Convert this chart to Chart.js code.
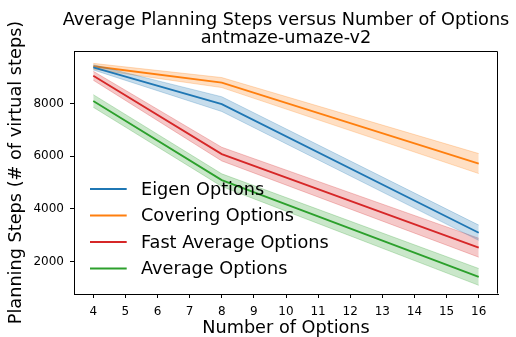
<!DOCTYPE html>
<html>
<head>
<meta charset="utf-8">
<script src="https://cdn.jsdelivr.net/npm/chart.js@4"></script>
<style>
  html, body { margin: 0; padding: 0; background: #fff; }
  #wrap { width: 516px; height: 337px; }
</style>
</head>
<body>
<div id="wrap"><canvas id="c" width="516" height="337"></canvas></div>
<script>
// Number of options evaluated
const numOptions = [4, 8, 16];

// Mean planning steps per method
const eigenSteps    = [9380, 7980, 3090];
const coveringSteps = [9420, 8800, 5720];
const fastAvgSteps  = [9060, 6080, 2520];
const averageSteps  = [8100, 5090, 1410];

// Spread (shaded band half-width) per method
const eigenSpread    = [100, 280, 290];
const coveringSpread = [110, 190, 380];
const fastAvgSpread  = [170, 260, 360];
const averageSpread  = [240, 240, 320];

const seriesNames = ['Eigen Options', 'Covering Options', 'Fast Average Options', 'Average Options'];
const seriesColors = ['31,119,180', '255,127,14', '214,39,40', '44,160,44'];

const xTickValues = [4, 5, 6, 7, 8, 9, 10, 11, 12, 13, 14, 15, 16];
const yTickValues = [2000, 4000, 6000, 8000];

const titleLines = ['Average Planning Steps versus Number of Options', 'antmaze-umaze-v2'];
const xAxisTitle = 'Number of Options';
const yAxisTitle = 'Planning Steps (# of virtual steps)';

const FONT = 'DejaVu Sans';
Chart.defaults.font.family = FONT;
Chart.defaults.color = '#000';

const means = [eigenSteps, coveringSteps, fastAvgSteps, averageSteps];
const spreads = [eigenSpread, coveringSpread, fastAvgSpread, averageSpread];

const datasets = [];
means.forEach((m, i) => {
  const c = seriesColors[i];
  const upper = m.map((v, k) => ({ x: numOptions[k], y: v + spreads[i][k] }));
  const lower = m.map((v, k) => ({ x: numOptions[k], y: v - spreads[i][k] }));
  datasets.push({
    label: seriesNames[i] + ' upper',
    data: upper,
    borderColor: `rgba(${c},0.25)`,
    borderWidth: 1,
    backgroundColor: `rgba(${c},0.25)`,
    fill: '+1',
    pointRadius: 0,
    tension: 0,
    isBand: true
  });
  datasets.push({
    label: seriesNames[i] + ' lower',
    data: lower,
    borderColor: `rgba(${c},0.25)`,
    borderWidth: 1,
    backgroundColor: 'rgba(0,0,0,0)',
    fill: false,
    pointRadius: 0,
    tension: 0,
    isBand: true
  });
  datasets.push({
    label: seriesNames[i],
    data: m.map((v, k) => ({ x: numOptions[k], y: v })),
    borderColor: `rgb(${c})`,
    borderWidth: 1.8,
    fill: false,
    pointRadius: 0,
    tension: 0,
    isBand: false
  });
});

// Title centred over the plot area, frame on top/right, legend inside the plot
const decorPlugin = {
  id: 'decor',
  afterDraw(chart) {
    const { ctx, chartArea: a } = chart;
    ctx.save();

    ctx.fillStyle = '#000';
    ctx.font = `17.7px "${FONT}"`;
    ctx.textAlign = 'center';
    ctx.textBaseline = 'alphabetic';
    const cx = (a.left + a.right) / 2;
    ctx.fillText(titleLines[0], cx, 25);
    ctx.fillText(titleLines[1], cx, 43.3);

    ctx.strokeStyle = '#000';
    ctx.lineWidth = 1;
    ctx.beginPath();
    ctx.moveTo(Math.round(a.left) + 0.5, Math.round(a.top) + 0.5);
    ctx.lineTo(Math.round(a.right) - 0.5, Math.round(a.top) + 0.5);
    ctx.lineTo(Math.round(a.right) - 0.5, Math.round(a.bottom) - 0.5);
    ctx.stroke();

    const mains = chart.data.datasets.filter(d => !d.isBand);
    const y0 = 189, dy = 26.5;
    ctx.textBaseline = 'middle';
    ctx.textAlign = 'left';
    mains.forEach((d, i) => {
      const y = y0 + i * dy;
      ctx.strokeStyle = d.borderColor;
      ctx.lineWidth = 1.8;
      ctx.beginPath();
      ctx.moveTo(90, y);
      ctx.lineTo(126.7, y);
      ctx.stroke();
      ctx.fillStyle = '#000';
      ctx.fillText(d.label, 141, y + 1);
    });
    ctx.restore();
  }
};

new Chart(document.getElementById('c'), {
  type: 'line',
  data: { datasets },
  plugins: [decorPlugin],
  options: {
    responsive: false,
    devicePixelRatio: 1,
    animation: false,
    layout: { padding: { left: 0, right: 18, top: 51, bottom: 0 } },
    plugins: {
      legend: { display: false },
      tooltip: { enabled: false },
      title: { display: false }
    },
    scales: {
      x: {
        type: 'linear',
        min: 3.4,
        max: 16.6,
        afterBuildTicks: s => { s.ticks = xTickValues.map(v => ({ value: v })); },
        afterFit: s => { s.height = 43; },
        ticks: {
          autoSkip: false, maxRotation: 0, padding: 7,
          font: { family: FONT, size: 12 }, color: '#000',
          callback: v => String(v)
        },
        grid: { drawOnChartArea: false, drawTicks: true, tickLength: 4, tickColor: '#000', tickWidth: 1 },
        border: { display: true, color: '#000', width: 1 },
        title: {
          display: true, text: xAxisTitle, color: '#000',
          font: { family: FONT, size: 17.7, lineHeight: 0.92 }, padding: { top: 0, bottom: 0 }
        }
      },
      y: {
        type: 'linear',
        min: 760,
        max: 10000,
        afterBuildTicks: s => { s.ticks = yTickValues.map(v => ({ value: v })); },
        afterFit: s => { s.width = 74; },
        ticks: {
          padding: 6,
          font: { family: FONT, size: 12 }, color: '#000',
          callback: v => String(v)
        },
        grid: { drawOnChartArea: false, drawTicks: true, tickLength: 4, tickColor: '#000', tickWidth: 1 },
        border: { display: true, color: '#000', width: 1 },
        title: {
          display: true, text: yAxisTitle, color: '#000',
          font: { family: FONT, size: 17.7 }, padding: { top: 6, bottom: 0 }
        }
      }
    }
  }
});
</script>
</body>
</html>
